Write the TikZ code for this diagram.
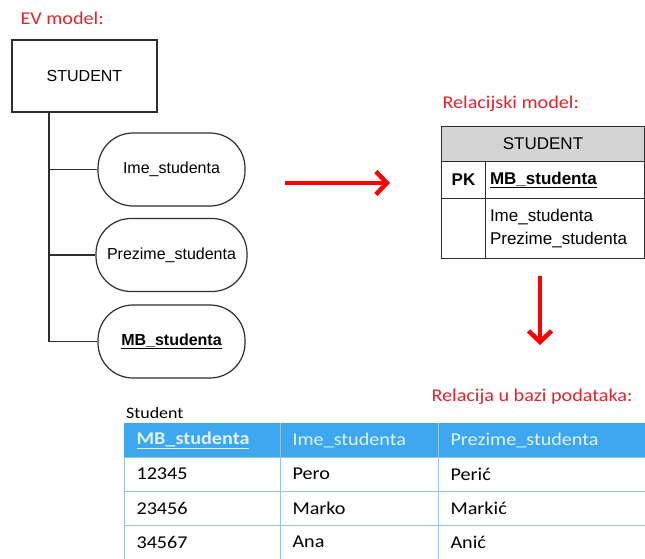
\documentclass[tikz,border=0pt]{standalone}
\usepackage{fontspec}
\setmainfont{Liberation Sans}
\newfontfamily\calibri[FakeStretch=1.12]{Carlito}
\usetikzlibrary{arrows.meta}

\definecolor{labelred}{RGB}{225,35,45}
\definecolor{linegray}{RGB}{45,45,45}
\definecolor{headgray}{RGB}{212,212,212}
\definecolor{headblue}{RGB}{62,168,238}
\definecolor{gridblue}{RGB}{150,195,232}
\definecolor{headtext}{RGB}{225,240,252}

\tikzset{
  evfont/.style={font=\fontsize{16}{19}\selectfont},
  relfont/.style={font=\fontsize{17}{21}\selectfont},
  tabfont/.style={font=\calibri\fontsize{18}{21}\selectfont},
  redlabel/.style={font=\calibri\fontsize{18}{21}\selectfont, text=labelred},
  attrbox/.style={draw=linegray, line width=1.2pt, rounded corners=35pt,
    minimum width=147pt, minimum height=73pt, inner sep=0pt, evfont},
  relcell/.style={draw=linegray, line width=1pt, inner sep=0pt, anchor=north west, relfont},
  bigarrow/.style={draw=red, line width=4.5pt, -{Straight Barb[length=11pt,width=23pt]}}
}

\begin{document}
\begin{tikzpicture}[x=1pt,y=-1pt]
\useasboundingbox (0,0) rectangle (645,559);

% EV model
\node[redlabel, anchor=west] (evlabel) at (17,18) {EV model:};
\node[draw=linegray, line width=1.2pt, minimum width=145pt, minimum height=72pt, evfont] (student) at (84.5,76) {STUDENT};
\node[attrbox] (ime) at (171.5,169.5) {Ime\_studenta};
\node[attrbox, minimum width=151pt] (prezime) at (171.5,255) {Prezime\_studenta};
\node[attrbox] (mb) at (171.5,341.5) {\textbf{\underline{MB\_studenta}}};
\coordinate (trunk) at (49,112);
\draw[linegray, line width=1.2pt] (trunk) |- (mb.west);
\draw[linegray, line width=1.2pt] (trunk |- ime.west) -- (ime.west);
\draw[linegray, line width=1.2pt] (trunk |- prezime.west) -- (prezime.west);

% arrow to relational model
\coordinate (right1) at (285,183);
\coordinate (right2) at (390,183);
\draw[bigarrow] (right1) -- (right2);

% relational model
\node[redlabel, anchor=west] (rellabel) at (439,104) {Relacijski model:};
\node[relcell, fill=headgray, minimum width=203pt, minimum height=35pt] (relhead) at (441,126) {STUDENT};
\node[relcell, minimum width=44pt, minimum height=37pt] (pk) at (441,161) {\textbf{PK}};
\node[relcell, minimum width=159pt, minimum height=37pt, text width=150pt, align=left] (pkattr) at (485,161) {\textbf{\underline{MB\_studenta}}};
\node[relcell, minimum width=44pt, minimum height=60pt] (blank) at (441,198) {};
\node[relcell, minimum width=159pt, minimum height=60pt, text width=150pt, align=left,
  font=\fontsize{17}{23}\selectfont] (attrs) at (485,198) {Ime\_studenta\\Prezime\_studenta};

% arrow to relation
\coordinate (down1) at (540,276);
\coordinate (down2) at (540,345);
\draw[bigarrow] (down1) -- (down2);

% relation in database
\node[redlabel, anchor=east] (dblabel) at (636,397) {Relacija u bazi podataka:};
\node[font=\calibri\fontsize{16}{19}\selectfont, anchor=west, inner sep=0pt] (tabname) at (126,413) {Student};
\fill[headblue] (124,423) rectangle (645,457);
\draw[gridblue, line width=1pt] (280,423) -- (280,457);
\draw[gridblue, line width=1pt] (438,423) -- (438,457);
\node[tabfont, text=headtext, anchor=west] (h1) at (133,440) {\textbf{\underline{MB\_studenta}}};
\node[tabfont, text=headtext, anchor=west] (h2) at (289,440) {Ime\_studenta};
\node[tabfont, text=headtext, anchor=west] (h3) at (447,440) {Prezime\_studenta};
\draw[gridblue, line width=1pt] (124,457) rectangle (280,491);
\draw[gridblue, line width=1pt] (280,457) rectangle (438,491);
\draw[gridblue, line width=1pt] (438,457) rectangle (650,491);
\node[tabfont, anchor=west] (r1a) at (133,474) {12345};
\node[tabfont, anchor=west] (r1b) at (289,474) {Pero};
\node[tabfont, anchor=west] (r1c) at (447,474) {Perić};
\draw[gridblue, line width=1pt] (124,491) rectangle (280,525);
\draw[gridblue, line width=1pt] (280,491) rectangle (438,525);
\draw[gridblue, line width=1pt] (438,491) rectangle (650,525);
\node[tabfont, anchor=west] (r2a) at (133,508) {23456};
\node[tabfont, anchor=west] (r2b) at (289,508) {Marko};
\node[tabfont, anchor=west] (r2c) at (447,508) {Markić};
\draw[gridblue, line width=1pt] (124,525) rectangle (280,562);
\draw[gridblue, line width=1pt] (280,525) rectangle (438,562);
\draw[gridblue, line width=1pt] (438,525) rectangle (650,562);
\node[tabfont, anchor=west] (r3a) at (133,542) {34567};
\node[tabfont, anchor=west] (r3b) at (289,542) {Ana};
\node[tabfont, anchor=west] (r3c) at (447,542) {Anić};
\end{tikzpicture}
\end{document}
